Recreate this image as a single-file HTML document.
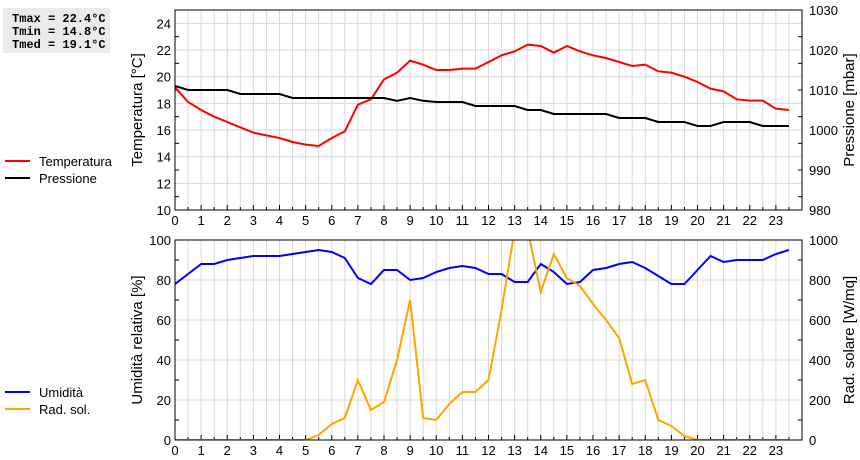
<!DOCTYPE html>
<html><head><meta charset="utf-8"><style>
body{margin:0;background:#fff;width:860px;height:460px;overflow:hidden}
svg{display:block;font-family:"Liberation Sans",Arial,sans-serif}
</style></head><body>
<svg id="c" width="860" height="460" xmlns="http://www.w3.org/2000/svg">
<rect x="3" y="8" width="107" height="45" fill="#ebebeb"/>
<text x="12" y="22" font-family="Liberation Mono,monospace" font-weight="bold" font-size="12">Tmax = 22.4°C</text>
<text x="12" y="35" font-family="Liberation Mono,monospace" font-weight="bold" font-size="12">Tmin = 14.8°C</text>
<text x="12" y="48" font-family="Liberation Mono,monospace" font-weight="bold" font-size="12">Tmed = 19.1°C</text>
<g id="plots"></g>
</svg>
<script>
const hours=[];for(let i=0;i<48;i++)hours.push(i/2);
const temperature=[19.2,18.1,17.5,17.0,16.6,16.2,15.8,15.6,15.4,15.1,14.9,14.8,15.4,15.9,17.9,18.3,19.8,20.3,21.2,20.9,20.5,20.5,20.6,20.6,21.1,21.6,21.9,22.4,22.3,21.8,22.3,21.9,21.6,21.4,21.1,20.8,20.9,20.4,20.3,20.0,19.6,19.1,18.9,18.3,18.2,18.2,17.6,17.5];
const pressure=[1011,1010,1010,1010,1010,1009,1009,1009,1009,1008,1008,1008,1008,1008,1008,1008,1008,1007.3,1008,1007.3,1007,1007,1007,1006,1006,1006,1006,1005,1005,1004,1004,1004,1004,1004,1003,1003,1003,1002,1002,1002,1001,1001,1002,1002,1002,1001,1001,1001];
const humidity=[78,83,88,88,90,91,92,92,92,93,94,95,94,91,81,78,85,85,80,81,84,86,87,86,83,83,79,79,88,84,78,79,85,86,88,89,86,82,78,78,85,92,89,90,90,90,93,95];
const solar=[0,0,0,0,0,0,0,0,0,0,0,25,80,110,300,150,190,400,700,110,100,180,240,240,300,650,1050,1050,740,930,810,770,680,600,510,280,300,100,70,20,0,0,0,0,0,0,0,0];
const xTicks=[0,1,2,3,4,5,6,7,8,9,10,11,12,13,14,15,16,17,18,19,20,21,22,23];
const tempTicks=[10,12,14,16,18,20,22,24];
const pressTicks=[980,990,1000,1010,1020,1030];
const humTicks=[0,20,40,60,80,100];
const solarTicks=[0,200,400,600,800,1000];
const NS="http://www.w3.org/2000/svg";
const g=document.getElementById('plots');
const X0=175,X1=802;
const xs=h=>X0+(h/24)*(X1-X0);
function el(t,a,p){const e=document.createElementNS(NS,t);for(const k in a)e.setAttribute(k,a[k]);(p||g).appendChild(e);return e;}
function panel(top,bot,lmin,lmax,rmin,rmax,lt,rt,ltitle,rtitle,s1,c1,s2,c2,name,l1,l2,legY){
 const yl=v=>bot-(v-lmin)/(lmax-lmin)*(bot-top);
 const yr=v=>bot-(v-rmin)/(rmax-rmin)*(bot-top);
 for(let i=1;i<48;i++){const l=el('line',{x1:xs(i/2),x2:xs(i/2),y1:top,y2:bot,stroke:'#d8d8d8'});}
 lt.forEach(v=>{const l=el('line',{x1:X0,x2:X1,y1:yl(v),y2:yl(v),stroke:'#d8d8d8'});
  const t=el('text',{x:X0-4,y:yl(v)+5,'text-anchor':'end','font-size':13});t.textContent=v;
  if(v<lmax){const m=(lt[1]-lt[0])/2;el('line',{x1:X0,x2:X0+4,y1:yl(v+m),y2:yl(v+m),stroke:'#000'});el('line',{x1:X1,x2:X1-4,y1:yl(v+m),y2:yl(v+m),stroke:'#000'});}});
 rt.forEach(v=>{const t=el('text',{x:X1+7,y:yr(v)+5,'font-size':13});t.textContent=v;});
 xTicks.forEach(h=>{el('line',{x1:xs(h),x2:xs(h),y1:bot,y2:bot-5,stroke:'#000'});el('line',{x1:xs(h+0.5),x2:xs(h+0.5),y1:bot,y2:bot-3,stroke:'#000'});
  const t=el('text',{x:xs(h),y:bot+15,'text-anchor':'middle','font-size':13});t.textContent=h;});
 const cid='clip'+name;const cp=el('clipPath',{id:cid});el('rect',{x:X0,y:top,width:X1-X0,height:bot-top},cp);
 const p1=el('polyline',{points:hours.map((h,i)=>xs(h)+','+yl(s1[i])).join(' '),fill:'none',stroke:c1,'stroke-width':2,'clip-path':'url(#'+cid+')'});
 
 const p2=el('polyline',{points:hours.map((h,i)=>xs(h)+','+yr(s2[i])).join(' '),fill:'none',stroke:c2,'stroke-width':2,'clip-path':'url(#'+cid+')'});
 
 const fr=el('rect',{x:X0,y:top,width:X1-X0,height:bot-top,fill:'none',stroke:'#000'});
 const a=el('text',{transform:'translate(142,'+(top+bot)/2+') rotate(-90)','text-anchor':'middle','font-size':15});a.textContent=ltitle;
 const b=el('text',{transform:'translate(854,'+(top+bot)/2+') rotate(-90)','text-anchor':'middle','font-size':15});b.textContent=rtitle;
 [[l1,c1,legY],[l2,c2,legY+17]].forEach(([lab,c,y])=>{const ln=el('line',{x1:5,x2:30,y1:y,y2:y,stroke:c,'stroke-width':2});
  const t=el('text',{x:39,y:y+5,'font-size':13});t.textContent=lab;});
}
panel(10,210,10,25,980,1030,tempTicks,pressTicks,'Temperatura [°C]','Pressione [mbar]',temperature,'#ff0000',pressure,'#000000','top','Temperatura','Pressione',161);
panel(240,440,0,100,0,1000,humTicks,solarTicks,'Umidità relativa [%]','Rad. solare [W/mq]',humidity,'#0000ff',solar,'#ffa500','bottom','Umidità','Rad. sol.',392);
</script>
</body></html>
